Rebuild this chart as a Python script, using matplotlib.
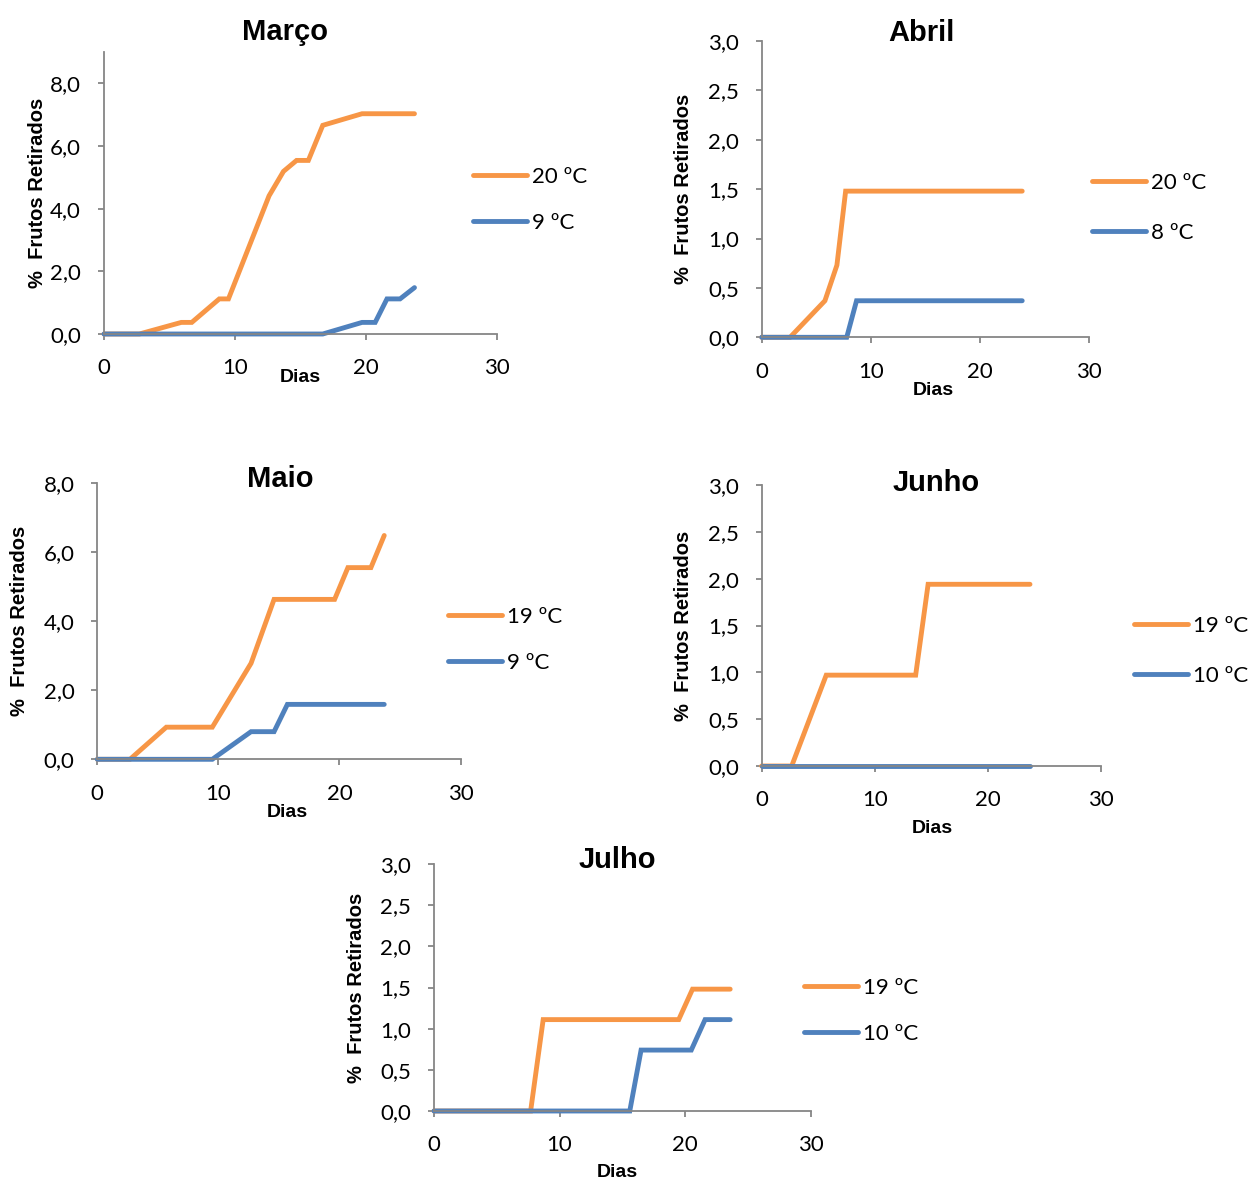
import matplotlib.pyplot as plt
from matplotlib.ticker import FuncFormatter

# valores (dias, % frutos retirados)
marco_dias_q = [0, 2.7, 5.9, 6.7, 8.8, 9.5, 12.6, 13.7, 14.7, 15.6, 16.7, 19.7, 23.7]
marco_q = [0, 0, 0.37, 0.37, 1.12, 1.12, 4.41, 5.19, 5.54, 5.54, 6.66, 7.03, 7.03]
marco_dias_f = [0, 16.7, 19.7, 20.7, 21.6, 22.6, 23.7]
marco_f = [0, 0, 0.37, 0.37, 1.12, 1.12, 1.48]

abril_dias_q = [0, 2.6, 5.8, 6.9, 7.7, 23.9]
abril_q = [0, 0, 0.37, 0.73, 1.48, 1.48]
abril_dias_f = [0, 7.8, 8.7, 23.9]
abril_f = [0, 0, 0.37, 0.37]

maio_dias_q = [0, 2.7, 5.7, 9.5, 12.7, 14.6, 19.6, 20.7, 22.6, 23.7]
maio_q = [0, 0, 0.93, 0.93, 2.78, 4.63, 4.63, 5.55, 5.55, 6.48]
maio_dias_f = [0, 9.5, 12.7, 14.6, 15.7, 23.7]
maio_f = [0, 0, 0.80, 0.80, 1.59, 1.59]

junho_dias_q = [0, 2.65, 5.7, 13.6, 14.7, 23.7]
junho_q = [0, 0, 0.97, 0.97, 1.94, 1.94]
junho_dias_f = [0, 23.7]
junho_f = [0, 0]

julho_dias_q = [0, 7.7, 8.7, 19.5, 20.6, 23.6]
julho_q = [0, 0, 1.11, 1.11, 1.48, 1.48]
julho_dias_f = [0, 15.6, 16.5, 20.5, 21.6, 23.6]
julho_f = [0, 0, 0.74, 0.74, 1.11, 1.11]

x_ticks = [0, 10, 20, 30]
y_ticks_8 = [0, 2, 4, 6, 8]
y_ticks_3 = [0, 0.5, 1.0, 1.5, 2.0, 2.5, 3.0]

W, H = 1252, 1182
laranja = '#F79646'
azul = '#4F81BD'
cinza = '#868686'
fonte_num = 'Lato'
fonte_tit = 'Liberation Sans'

# (nome, dados, legendas, eixo em px [x0, x1, y0(base), y1(topo)], ymax, yticks,
#  titulo (fx, fy), ylabel fx, dias (fx, fy), legenda [x, y_laranja, y_azul])
paineis = [
    ('Março', (marco_dias_q, marco_q, marco_dias_f, marco_f), ('20 ºC', '9 ºC'),
     (104, 497, 334, 52), 9, y_ticks_8, (0.46, 1.072), -0.17, (0.499, -0.156), (473, 176, 224)),
    ('Abril', (abril_dias_q, abril_q, abril_dias_f, abril_f), ('20 ºC', '8 ºC'),
     (761.7, 1088.7, 337.3, 41), 3, y_ticks_3, (0.49, 1.027), -0.238, (0.524, -0.178), (1092, 182, 234)),
    ('Maio', (maio_dias_q, maio_q, maio_dias_f, maio_f), ('19 ºC', '9 ºC'),
     (97.3, 460.5, 759.3, 483), 8, y_ticks_8, (0.503, 1.014), -0.213, (0.523, -0.191), (448, 616, 664)),
    ('Junho', (junho_dias_q, junho_q, junho_dias_f, junho_f), ('19 ºC', '10 ºC'),
     (761.7, 1101.3, 766, 485), 3, y_ticks_3, (0.513, 1.007), -0.229, (0.501, -0.221), (1134, 625, 677)),
    ('Julho', (julho_dias_q, julho_q, julho_dias_f, julho_f), ('19 ºC', '10 ºC'),
     (434, 810.5, 1111, 864), 3, y_ticks_3, (0.486, 1.016), -0.207, (0.486, -0.251), (804, 987, 1035)),
]

virgula = FuncFormatter(lambda v, p: f'{v:.1f}'.replace('.', ','))

fig = plt.figure(figsize=(W / 100, H / 100), dpi=100)

for nome, dados, legs, px, ymax, yt, tit, ylx, dias, leg in paineis:
    x0, x1, y0, y1 = px
    ax = fig.add_axes([x0 / W, 1 - y0 / H, (x1 - x0) / W, (y0 - y1) / H])
    dq, vq, df, vf = dados
    ax.plot(dq, vq, color=laranja, lw=3.5, solid_capstyle='round', solid_joinstyle='miter', label=legs[0], clip_on=False)
    ax.plot(df, vf, color=azul, lw=3.5, solid_capstyle='round', solid_joinstyle='miter', label=legs[1], clip_on=False)
    ax.set_xlim(0, 30)
    ax.set_ylim(0, ymax)
    ax.set_xticks(x_ticks)
    ax.set_yticks(yt)
    ax.yaxis.set_major_formatter(virgula)
    for s in ['top', 'right']:
        ax.spines[s].set_visible(False)
    for s in ['left', 'bottom']:
        ax.spines[s].set_color(cinza)
        ax.spines[s].set_linewidth(1.3)
    ax.tick_params(axis='both', direction='out', length=4.5, width=1.3, color=cinza,
                   labelsize=16, labelcolor='black')
    ax.tick_params(axis='y', pad=12)
    ax.tick_params(axis='x', pad=13)
    for lab in ax.get_xticklabels() + ax.get_yticklabels():
        lab.set_fontfamily(fonte_num)
    ax.text(tit[0], tit[1], nome, transform=ax.transAxes, ha='center', va='center',
            fontsize=21, fontweight='bold', family=fonte_tit)
    ax.text(ylx, 0.5, '%  Frutos Retirados', transform=ax.transAxes, rotation=90,
            ha='center', va='center', fontsize=14.5, fontweight='bold', family=fonte_tit)
    ax.text(dias[0], dias[1], 'Dias', transform=ax.transAxes, ha='center', va='center',
            fontsize=14, fontweight='bold', family=fonte_tit)
    lx, ly1, ly2 = leg
    ax.legend(loc='center left', bbox_to_anchor=(lx / W, 1 - (ly1 + ly2) / 2 / H),
              bbox_transform=fig.transFigure, frameon=False, borderpad=0, borderaxespad=0,
              handlelength=2.45, handletextpad=0.2, labelspacing=(ly2 - ly1) / 22.2 - 1.0,
              prop={'family': fonte_num, 'size': 16})

fig.savefig('out.png', dpi=100)
